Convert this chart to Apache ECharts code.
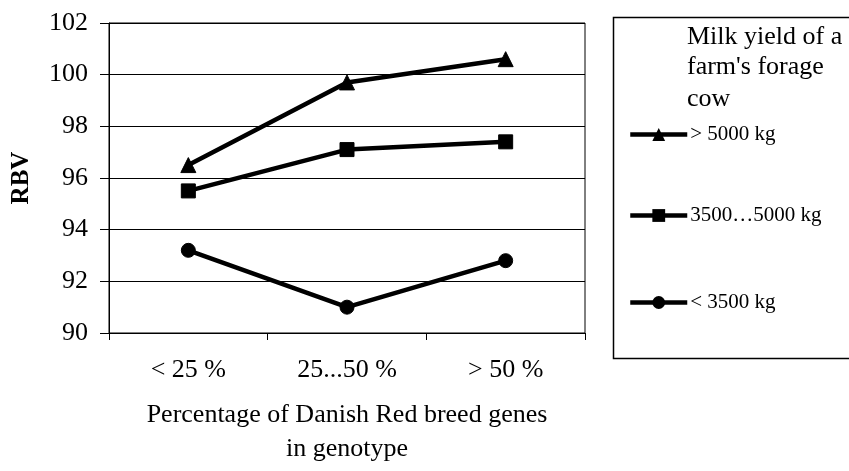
<!DOCTYPE html>
<html>
<head>
<meta charset="utf-8">
<script src="https://cdn.jsdelivr.net/npm/echarts@6/dist/echarts.min.js"></script>
<style>
  html, body { margin: 0; padding: 0; background: #fff; }
  #chart { width: 849px; height: 471px; }
</style>
</head>
<body>
<div id="chart"></div>
<script>
// Relative breeding value by share of Danish Red genes, per farm milk-yield group
const categories = ['< 25 %', '25...50 %', '> 50 %'];
const seriesNames = ['> 5000 kg', '3500\u20265000 kg', '< 3500 kg'];
const high = [96.5, 99.7, 100.6];
const mid = [95.5, 97.1, 97.4];
const low = [93.2, 91.0, 92.8];
const yTicks = { min: 90, max: 102, step: 2 };

const serif = '"Liberation Serif", "Times New Roman", serif';
const chart = echarts.init(document.getElementById('chart'), null, { renderer: 'canvas' });

const symbols = ['triangle', 'rect', 'circle'];
const sizes = [15, 14, 14];
const values = [high, mid, low];

const legendTops = [127, 208, 295];
const legends = seriesNames.map((name, i) => ({
  data: [name],
  orient: 'vertical',
  left: 623,
  top: legendTops[i] - 8,
  itemWidth: 57,
  itemHeight: 16,
  itemGap: 4,
  selectedMode: false,
  lineStyle: { width: 4.5, color: '#000' },
  itemStyle: { color: '#000' },
  textStyle: { fontFamily: serif, fontSize: 21, color: '#000', padding: [3, 0, 0, -2] }
}));

chart.setOption({
  animation: false,
  backgroundColor: '#fff',
  grid: {
    left: 109, top: 23, right: 264, bottom: 129,
    show: true, borderColor: '#000', borderWidth: 1, backgroundColor: 'transparent'
  },
  legend: legends,
  graphic: [
    {
      type: 'rect',
      shape: { x: 613.5, y: 17.5, width: 245, height: 341 },
      style: { fill: 'none', stroke: '#000', lineWidth: 1.5 },
      silent: true
    },
    {
      type: 'text', left: 687, top: 24,
      style: { text: 'Milk yield of a', font: '26px ' + serif, fill: '#000' }
    },
    {
      type: 'text', left: 687, top: 54,
      style: { text: "farm's forage", font: '26px ' + serif, fill: '#000' }
    },
    {
      type: 'text', left: 687, top: 86,
      style: { text: 'cow', font: '26px ' + serif, fill: '#000' }
    }
  ],
  xAxis: {
    type: 'category',
    data: categories,
    boundaryGap: true,
    axisLine: { lineStyle: { color: '#000', width: 1 } },
    axisTick: { show: true, length: 7, alignWithLabel: false, lineStyle: { color: '#000' } },
    axisLabel: { fontFamily: serif, fontSize: 26, color: '#000', margin: 24 },
    splitLine: { show: false },
    name: 'Percentage of Danish Red breed genes\nin genotype',
    nameLocation: 'middle',
    nameGap: 65,
    nameTextStyle: { fontFamily: serif, fontSize: 26, color: '#000', lineHeight: 34 }
  },
  yAxis: {
    type: 'value',
    min: yTicks.min, max: yTicks.max, interval: yTicks.step,
    axisLine: { show: true, lineStyle: { color: '#000', width: 1 } },
    axisTick: { show: true, length: 9, lineStyle: { color: '#000' } },
    axisLabel: { fontFamily: serif, fontSize: 26, color: '#000', margin: 21 },
    splitLine: { show: true, lineStyle: { color: '#000', width: 1 } },
    name: 'RBV',
    nameLocation: 'middle',
    nameRotate: 90,
    nameGap: 75,
    nameTextStyle: { fontFamily: serif, fontSize: 25, fontWeight: 'bold', color: '#000' }
  },
  series: seriesNames.map((name, i) => ({
    name,
    type: 'line',
    data: values[i],
    symbol: symbols[i],
    symbolSize: sizes[i],
    showAllSymbol: true,
    lineStyle: { color: '#000', width: 4.5 },
    itemStyle: { color: '#000', borderColor: '#000' },
    emphasis: { disabled: true }
  }))
});
</script>
</body>
</html>
